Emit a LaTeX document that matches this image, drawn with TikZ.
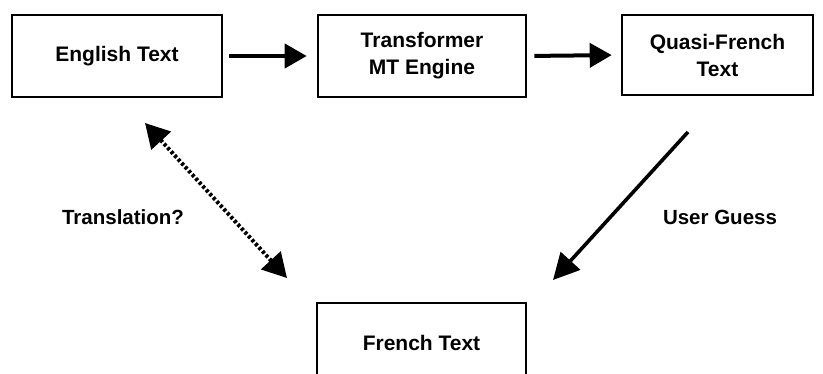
\documentclass[tikz,border=0pt]{standalone}
\usepackage{fontspec}
\setmainfont{Liberation Sans}
\usetikzlibrary{arrows.meta}
\begin{document}
\begin{tikzpicture}[x=1pt,y=-1pt,
  box/.style={draw, line width=2.6pt, inner sep=0pt, align=center,
    font=\bfseries\fontsize{21}{27}\selectfont},
  lbl/.style={font=\bfseries\fontsize{20.5}{26}\selectfont},
  flow/.style={line width=4pt, -{Triangle[length=22pt,width=24pt]}},
  maybe/.style={line width=4pt, dash pattern=on 3pt off 2.2pt,
    {Triangle[length=24pt,width=26pt]}-{Triangle[length=24pt,width=26pt]}},
  guess/.style={line width=3.6pt, -{Triangle[length=26pt,width=26pt]}}]
\useasboundingbox (0,0) rectangle (823,374);

% the four text boxes
\node[box, minimum width=210pt, minimum height=82pt] (eng) at (117,56) {English Text};
\node[box, minimum width=208pt, minimum height=82pt] (mt) at (422,56) {Transformer\\MT Engine};
\node[box, minimum width=191pt, minimum height=80pt] (qf) at (717.5,55) {Quasi-French\\Text};
\node[box, minimum width=209pt, minimum height=80pt] (fr) at (421.5,343) {French Text};

% pipeline arrows
\draw[flow, shorten <=6pt, shorten >=10pt] (eng.east) -- (mt.west);
\draw[flow, shorten <=7pt, shorten >=9pt] (mt.east) -- (qf.west);

% diagonal relations
\coordinate (tlA) at (145,123);
\coordinate (tlB) at (287,278);
\coordinate (ugA) at (688,132);
\coordinate (ugB) at (553,280);
\draw[maybe] (tlA) -- (tlB);
\draw[guess] (ugA) -- (ugB);

% labels
\node[lbl] (tl) at (123,217) {Translation?};
\node[lbl] (ug) at (720,217) {User Guess};
\end{tikzpicture}
\end{document}
